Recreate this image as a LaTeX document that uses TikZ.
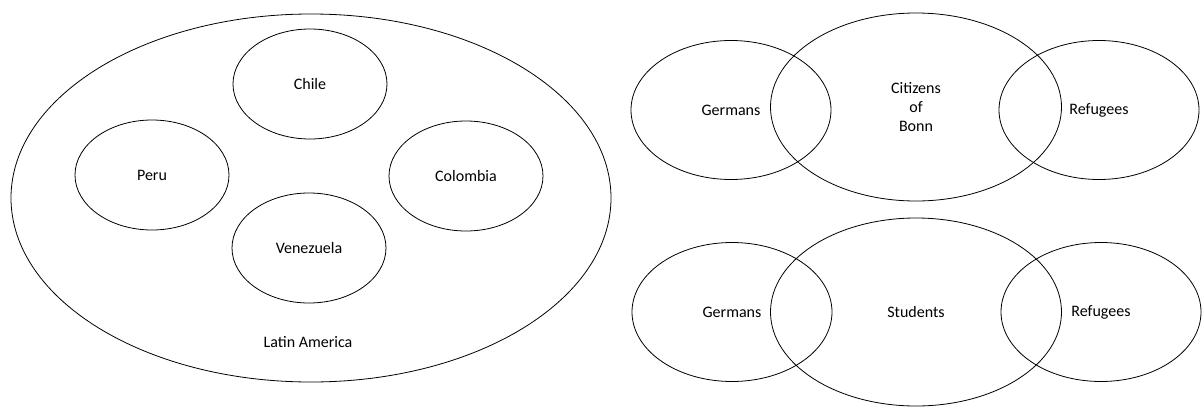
\documentclass[tikz,border=0pt]{standalone}
\usepackage{fontspec}
\setmainfont{Carlito}
\usetikzlibrary{shapes.geometric}

\begin{document}
\begin{tikzpicture}[x=1pt, y=-1pt,
  set/.style={draw, ellipse, line width=0.8pt, inner sep=0pt, align=center, font=\fontsize{16}{19}\selectfont},
  country/.style={set, minimum width=154pt, minimum height=110pt},
  side/.style={set, minimum width=200pt, minimum height=139pt},
  middle/.style={set, minimum width=291pt, minimum height=188pt}]
\useasboundingbox (0,0) rectangle (1203,407);

\node[set, minimum width=600pt, minimum height=368pt] (latam) at (311,198) {};
\node[country] (chile) at (310,84) {Chile};
\node[country] (peru) at (152,175) {Peru};
\node[country] (colombia) at (466,176) {Colombia};
\node[country] (venezuela) at (309,248) {Venezuela};
\node[font=\fontsize{16}{19}\selectfont] (latamlabel) at (308,342) {Latin America};

\node[middle] (citizens) at (916,107) {Citizens\\of\\Bonn};
\node[side] (germansA) at (731,110) {Germans};
\node[side] (refugeesA) at (1099,110) {Refugees};

\node[middle] (students) at (916,312) {Students};
\node[side] (germansB) at (732,312) {Germans};
\node[side] (refugeesB) at (1101,312) {Refugees};
\end{tikzpicture}
\end{document}
